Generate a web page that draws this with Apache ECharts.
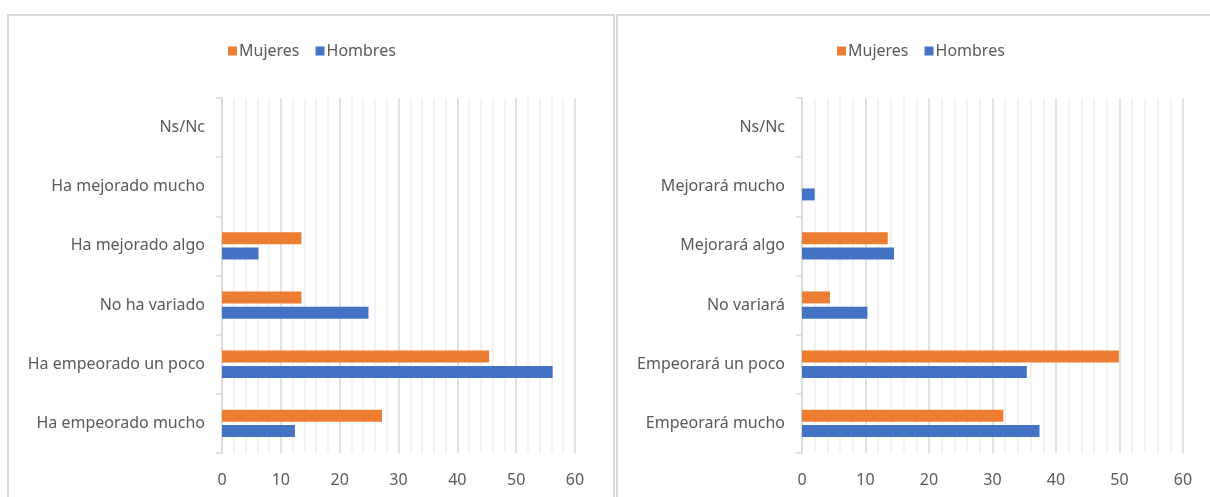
<!DOCTYPE html>
<html>
<head>
<meta charset="utf-8">
<script src="https://cdn.jsdelivr.net/npm/echarts@6/dist/echarts.min.js"></script>
<style>
  html, body { margin: 0; padding: 0; background: #fff; }
  #chart { width: 1210px; height: 497px; }
</style>
</head>
<body>
<div id="chart"></div>
<script>
// categories, bottom to top (as echarts draws a category y axis)
const catsLeft = ['Ha empeorado mucho', 'Ha empeorado un poco', 'No ha variado', 'Ha mejorado algo', 'Ha mejorado mucho', 'Ns/Nc'];
const mujeresLeft = [27.2, 45.4, 13.5, 13.5, 0, 0];
const hombresLeft = [12.4, 56.2, 24.9, 6.2, 0, 0];

const catsRight = ['Empeorará mucho', 'Empeorará un poco', 'No variará', 'Mejorará algo', 'Mejorará mucho', 'Ns/Nc'];
const mujeresRight = [31.7, 49.9, 4.4, 13.5, 0, 0];
const hombresRight = [37.4, 35.4, 10.3, 14.5, 2.0, 0];

const ticks = [0, 10, 20, 30, 40, 50, 60];

const gris = '#595959';
const naranja = '#ED7D31';
const azul = '#4472C4';
const fuente = 'Noto Sans';

function ejeX(idx) {
  return {
    type: 'value',
    gridIndex: idx,
    min: ticks[0],
    max: ticks[ticks.length - 1],
    interval: ticks[1] - ticks[0],
    axisLine: { show: false },
    axisTick: { show: false },
    axisLabel: { color: gris, fontSize: 16, fontFamily: fuente, margin: 19 },
    splitLine: { show: true, lineStyle: { color: '#d9d9d9', width: 1.5 } },
    minorTick: { show: false, splitNumber: 5 },
    minorSplitLine: { show: true, lineStyle: { color: '#f0f0f0', width: 1.5 } }
  };
}

function ejeY(idx, cats) {
  return {
    type: 'category',
    gridIndex: idx,
    data: cats,
    axisLine: { show: true, lineStyle: { color: '#d9d9d9', width: 1.5 } },
    axisTick: { show: true, length: 6, lineStyle: { color: '#d9d9d9', width: 1.5 } },
    axisLabel: { color: gris, fontSize: 16, fontFamily: fuente, margin: 17, padding: [4, 0, 0, 0] }
  };
}

function barra(name, color, data, idx) {
  return {
    name: name,
    type: 'bar',
    xAxisIndex: idx,
    yAxisIndex: idx,
    data: data,
    barWidth: 12,
    barGap: '28%',
    itemStyle: { color: color },
    silent: true,
    animation: false
  };
}

function leyenda(x) {
  return {
    left: x, top: 38,
    data: ['Mujeres', 'Hombres'],
    itemWidth: 9, itemHeight: 9, itemGap: 16,
    icon: 'rect',
    textStyle: { color: gris, fontSize: 16, fontFamily: fuente, padding: [0, 0, 0, -3] }
  };
}

const option = {
  backgroundColor: '#fff',
  animation: false,
  graphic: [
    { type: 'rect', shape: { x: 8, y: 15, width: 606, height: 520 }, style: { fill: 'none', stroke: '#d9d9d9', lineWidth: 2 } },
    { type: 'rect', shape: { x: 617, y: 15, width: 620, height: 520 }, style: { fill: 'none', stroke: '#d9d9d9', lineWidth: 2 } }
  ],
  legend: [leyenda(223), leyenda(832)],
  grid: [
    { left: 222, right: 635, top: 98, bottom: 44 },
    { left: 802, right: 27, top: 98, bottom: 44 }
  ],
  xAxis: [ejeX(0), ejeX(1)],
  yAxis: [ejeY(0, catsLeft), ejeY(1, catsRight)],
  // first series sits on top of each band
  series: [
    barra('Mujeres', naranja, mujeresLeft, 0),
    barra('Hombres', azul, hombresLeft, 0),
    barra('Mujeres', naranja, mujeresRight, 1),
    barra('Hombres', azul, hombresRight, 1)
  ]
};

const myChart = echarts.init(document.getElementById('chart'));
myChart.setOption(option);
</script>
</body>
</html>
